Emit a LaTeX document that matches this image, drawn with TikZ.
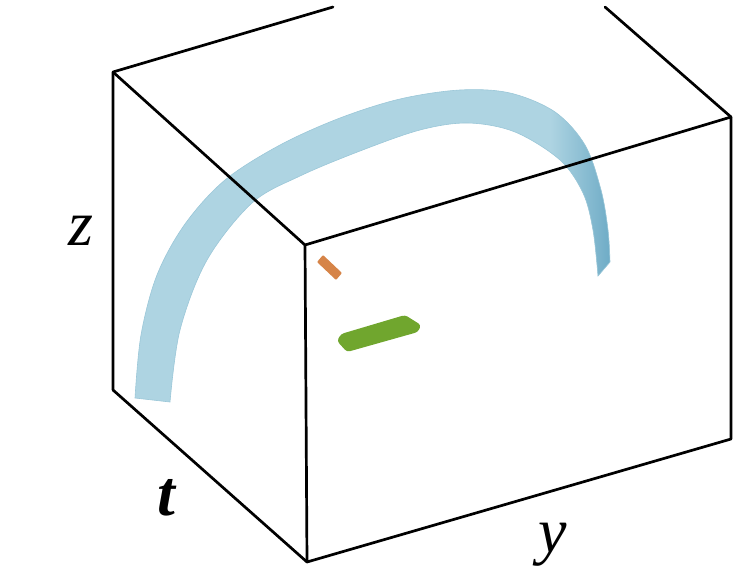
\documentclass[tikz,border=0pt]{standalone}
\usepackage{fontspec}
\setmainfont{Liberation Serif}
\begin{document}
\begin{tikzpicture}[x=1pt,y=-1pt,
  edge/.style={black,line width=2.7pt,line join=round,line cap=round},
  axislabel/.style={font=\fontsize{64}{64}\selectfont\itshape,anchor=base,inner sep=0pt}]
\definecolor{bandblue}{RGB}{174,212,226}
\definecolor{banddark}{RGB}{108,170,197}
\definecolor{bandedge}{RGB}{155,199,216}
\definecolor{orangebar}{RGB}{214,132,72}
\definecolor{greenbar}{RGB}{112,166,46}
\useasboundingbox (0,0) rectangle (733,570);
% corners
\coordinate (BTL) at (113,72);
\coordinate (BBL) at (113,390);
\coordinate (BTE) at (333,7);
\coordinate (FTL) at (305,245);
\coordinate (FBL) at (307,562);
\coordinate (FTR) at (731,117);
\coordinate (FBR) at (731,439);
\coordinate (RTE) at (605,7);
% band
\def\bandpath{plot[smooth,tension=0.55] coordinates {(135,398) (141,335) (157,275) (185,224) (225,180) (280,145) (340,118) (400,99) (460,90) (510,93) (555,112) (585,145) (601,190) (608,230) (610,262)}
  -- (598,276) --
  plot[smooth,tension=0.55] coordinates {(598,276) (593,230) (583,193) (560,160) (515,132) (468,123) (420,130) (360,151) (300,176) (252,203) (207,260) (180,330) (170,402)} -- cycle}
\begin{scope}
  \clip \bandpath;
  \fill[bandblue] (100,60) rectangle (650,420);
  \shade[left color=bandblue,right color=banddark] (550,60) rectangle (613,300);
\end{scope}
\draw[bandedge,line width=0.6pt] \bandpath;
% small bars
\fill[orangebar,rounded corners=1pt] (317,262) -- (323,255) -- (342,273) -- (336,280) -- cycle;
\fill[greenbar,rounded corners=3pt] (337,341) -- (341,334) -- (405,315) -- (421,325) -- (418,332) -- (347,352) -- cycle;
% box edges
\draw[edge] (BTE) -- (BTL) -- (BBL);
\draw[edge] (BTL) -- (FTL);
\draw[edge] (BBL) -- (FBL);
\draw[edge] (FTL) -- (FBL) -- (FBR) -- (FTR) -- cycle;
\draw[edge] (FTR) -- (RTE);
% labels
\node[axislabel] (zl) at (81,245) {z};
\node[axislabel,font=\fontsize{64}{64}\selectfont\itshape\bfseries] (tl) at (166,515) {t};
\node[axislabel] (yl) at (553,552) {y};
\end{tikzpicture}
\end{document}
